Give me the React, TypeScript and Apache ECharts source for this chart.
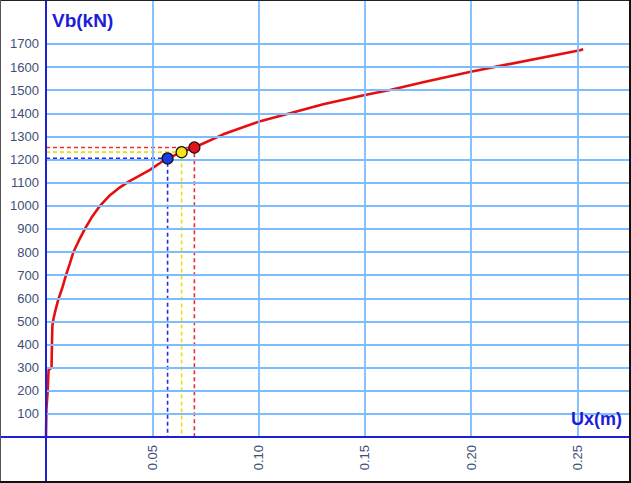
import React, { useEffect, useRef } from "react";
import * as echarts from "echarts";

// Pushover curve: Ux (m) vs Vb (kN)
const curveUx = [0, 0.0002, 0.0008, 0.0012, 0.0026, 0.0028, 0.003, 0.0035, 0.0045, 0.0058, 0.0075, 0.0094, 0.0112, 0.0129, 0.0155, 0.0183, 0.0215, 0.0254, 0.0301, 0.0348, 0.0387, 0.0489, 0.0552, 0.0572, 0.0638, 0.0698, 0.0834, 0.0999, 0.1148, 0.1304, 0.15, 0.1618, 0.1784, 0.1998, 0.2512, 0.2527];
const curveVb = [0, 120, 200, 290, 300, 400, 480, 510, 550, 595, 640, 700, 750, 800, 850, 900, 950, 1000, 1046, 1080, 1103, 1155, 1195, 1205, 1232, 1252, 1309, 1363, 1400, 1439, 1479, 1501, 1536, 1580, 1673, 1677];

// Performance points
const pointUx = [0.0572, 0.0638, 0.0698];
const pointVb = [1205, 1232, 1252];
const pointFill = ["#1a3ce0", "#f5e41a", "#e3141b"];
const pointDash = ["#2a2ad8", "#f0e000", "#e83030"];

// Grid lines / ticks
const xTicks = [0.05, 0.1, 0.15, 0.2, 0.25];
const yTicks = [100, 200, 300, 400, 500, 600, 700, 800, 900, 1000, 1100, 1200, 1300, 1400, 1500, 1600, 1700];

const X_MAX = 0.2752;
const Y_MAX = 1890;
const FONT = "'Liberation Sans', Arial, sans-serif";
const AXIS_BLUE = "#1f1fd6";
const GRID_BLUE = "#7dbcff";
const LABEL_COLOR = "#3d4f78";

export default function App() {
  const ref = useRef<HTMLDivElement>(null);
  useEffect(() => {
    document.body.style.margin = "0";
    const chart = echarts.init(ref.current!, undefined, { renderer: "svg" });
    const curve = curveUx.map((x, i) => [x, curveVb[i]]);
    const dashSeries = pointUx.map((x, i) => ({
      type: "line",
      data: [[0, pointVb[i]], [x, pointVb[i]], [x, 0]],
      symbol: "none",
      lineStyle: { color: pointDash[i], width: 1.6, type: [4, 3] },
      z: 3,
      silent: true,
    }));
    chart.setOption({
      animation: false,
      backgroundColor: "#ffffff",
      grid: { left: 46, right: 0, top: 0, bottom: 46 },
      xAxis: {
        type: "value",
        min: 0,
        max: X_MAX,
        interval: 0.05,
        axisLine: { show: false },
        axisTick: { show: false },
        splitLine: { show: false },
        axisLabel: {
          rotate: 90,
          margin: 8,
          fontSize: 13,
          fontFamily: FONT,
          color: LABEL_COLOR,
          formatter: (v: number) => (v > 0 && v < 0.26 ? v.toFixed(2) : ""),
        },
      },
      yAxis: {
        type: "value",
        min: 0,
        max: Y_MAX,
        interval: 100,
        axisLine: { show: false },
        axisTick: { show: false },
        splitLine: { show: false },
        axisLabel: {
          margin: 7,
          fontSize: 13,
          fontFamily: FONT,
          color: LABEL_COLOR,
          formatter: (v: number) => (v > 0 && v <= 1700 ? String(v) : ""),
        },
      },
      series: [
        {
          type: "line",
          data: [],
          silent: true,
          z: 1,
          markLine: {
            silent: true,
            symbol: "none",
            label: { show: false },
            lineStyle: { color: GRID_BLUE, width: 1.8, type: "solid", opacity: 1 },
            data: [
              ...xTicks.map((v) => ({ xAxis: v })),
              ...yTicks.map((v) => ({ yAxis: v })),
            ],
          },
        },
        ...dashSeries,
        {
          type: "line",
          data: curve,
          symbol: "none",
          lineStyle: { color: "#e60f0f", width: 2.6 },
          z: 4,
        },
        {
          type: "scatter",
          data: pointUx.map((x, i) => ({
            value: [x, pointVb[i]],
            itemStyle: { color: pointFill[i], borderColor: "#1a1010", borderWidth: 1.2, opacity: 1 },
          })),
          symbolSize: 11,
          z: 5,
        },
      ],
    });
    const [x0, y0] = chart.convertToPixel({ gridIndex: 0 }, [0, 0]) as number[];
    const W = chart.getWidth();
    const H = chart.getHeight();
    chart.setOption({
      graphic: [
        { type: "line", z: 10, shape: { x1: x0, y1: 0, x2: x0, y2: H }, style: { stroke: AXIS_BLUE, lineWidth: 2 } },
        { type: "line", z: 10, shape: { x1: 0, y1: y0, x2: W, y2: y0 }, style: { stroke: AXIS_BLUE, lineWidth: 2 } },
        {
          type: "text", z: 11, left: 52, top: 11,
          style: { text: "Vb(kN)", font: `bold 19px ${FONT}`, fill: "#1d1dd8" },
        },
        {
          type: "text", z: 11, right: 9, top: 410,
          style: { text: "Ux(m)", font: `bold 18px ${FONT}`, fill: "#1d1dd8" },
        },
        { type: "line", z: 12, shape: { x1: 0, y1: 0.5, x2: W, y2: 0.5 }, style: { stroke: "#222", lineWidth: 1 } },
        { type: "line", z: 12, shape: { x1: 0.5, y1: 0, x2: 0.5, y2: H }, style: { stroke: "#555", lineWidth: 1 } },
        { type: "line", z: 12, shape: { x1: W - 1, y1: 0, x2: W - 1, y2: H }, style: { stroke: "#111", lineWidth: 2 } },
        { type: "line", z: 12, shape: { x1: 0, y1: H - 1, x2: W, y2: H - 1 }, style: { stroke: "#111", lineWidth: 2 } },
      ],
    });
    return () => chart.dispose();
  }, []);
  return <div ref={ref} style={{ width: 631, height: 483 }} />;
}
